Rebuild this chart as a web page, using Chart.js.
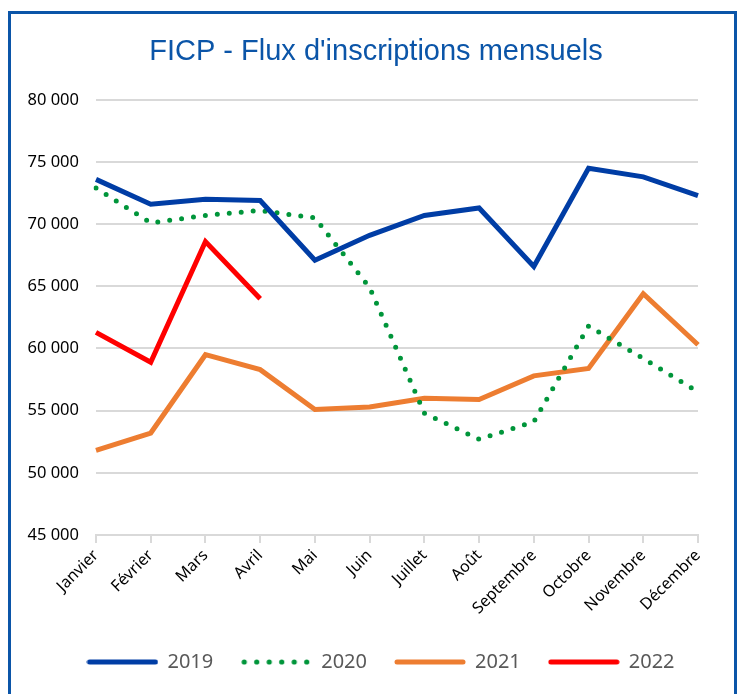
<!DOCTYPE html>
<html>
<head>
<meta charset="utf-8">
<script src="https://cdn.jsdelivr.net/npm/chart.js@4/dist/chart.umd.min.js"></script>
<style>
  html, body { margin: 0; padding: 0; background: #fff; overflow: hidden; }
  #frame { position: absolute; left: 8px; top: 11px; width: 729px; height: 720px; border: 3px solid #0B55A8; box-sizing: border-box; }
  #wrap { position: absolute; left: 0; top: 0; width: 738px; height: 694px; }
</style>
</head>
<body>
<div id="frame"></div>
<div id="wrap"><canvas id="ficpChart" width="738" height="694"></canvas></div>
<script>
// mois et valeurs
const mois = ['Janvier', 'Février', 'Mars', 'Avril', 'Mai', 'Juin', 'Juillet', 'Août', 'Septembre', 'Octobre', 'Novembre', 'Décembre'];
const flux2019 = [73600, 71600, 72000, 71900, 67100, 69100, 70700, 71300, 66600, 74500, 73800, 72300];
const flux2020 = [72900, 70100, 70700, 71100, 70500, 64900, 54800, 52700, 54100, 61800, 59200, 56500];
const flux2021 = [51800, 53200, 59500, 58300, 55100, 55300, 56000, 55900, 57800, 58400, 64400, 60300];
const flux2022 = [61300, 58900, 68600, 64000];

const fmt = v => String(v).replace(/\B(?=(\d{3})+(?!\d))/g, ' ');

// petits symboles de légende (trait plein ou pointillé)
function symbole(couleur, pointille) {
    const c = document.createElement('canvas');
    c.width = 72; c.height = 8;
    const g = c.getContext('2d');
    g.strokeStyle = couleur;
    g.fillStyle = couleur;
    if (pointille) {
        for (let x = 4; x <= 68; x += 12.5) {
            g.beginPath(); g.arc(x, 4, 2.6, 0, Math.PI * 2); g.fill();
        }
    } else {
        g.lineWidth = 5; g.lineCap = 'round';
        g.beginPath(); g.moveTo(3, 4); g.lineTo(69, 4); g.stroke();
    }
    return c;
}

// décale titre et légende vers la droite (centrés sur le cadre, pas sur la zone du graphique)
const decalage = {
    id: 'decalage',
    afterLayout(chart) {
        chart.titleBlock.left += 27; chart.titleBlock.right += 27;
        chart.legend.left += 32; chart.legend.right += 32;
    }
};

const ctx = document.getElementById('ficpChart').getContext('2d');
const ficpChart = new Chart(ctx, {
    type: 'line',
    data: {
        labels: mois,
        datasets: [{
            label: '2019',
            data: flux2019,
            borderColor: '#003DA5',
            backgroundColor: '#003DA5',
            borderWidth: 5,
            pointRadius: 0,
            pointStyle: symbole('#003DA5', false)
        }, {
            label: '2020',
            data: flux2020,
            borderColor: '#00953A',
            backgroundColor: '#00953A',
            borderWidth: 5,
            borderDash: [0, 12],
            borderCapStyle: 'round',
            pointRadius: 0,
            pointStyle: symbole('#00953A', true)
        }, {
            label: '2021',
            data: flux2021,
            borderColor: '#ED7D31',
            backgroundColor: '#ED7D31',
            borderWidth: 5,
            pointRadius: 0,
            pointStyle: symbole('#ED7D31', false)
        }, {
            label: '2022',
            data: flux2022,
            borderColor: '#FF0000',
            backgroundColor: '#FF0000',
            borderWidth: 5,
            pointRadius: 0,
            pointStyle: symbole('#FF0000', false)
        }]
    },
    plugins: [decalage],
    options: {
        responsive: false,
        animation: false,
        layout: { padding: { left: 0, right: 40, top: 0, bottom: 12 } },
        plugins: {
            title: {
                display: true,
                text: 'FICP - Flux d\'inscriptions mensuels',
                color: '#0B55A8',
                font: { family: 'Liberation Sans', size: 29, weight: 'normal', lineHeight: 1.2 },
                padding: { top: 35, bottom: 30 }
            },
            legend: {
                position: 'bottom',
                labels: {
                    usePointStyle: true,
                    pointStyleWidth: 70,
                    padding: 28,
                    color: '#595959',
                    font: { family: 'Noto Sans', size: 20 }
                }
            },
            tooltip: { enabled: false }
        },
        scales: {
            x: {
                offset: false,
                afterFit: s => { s.height = 89; },
                grid: { drawOnChartArea: false, color: '#D9D9D9', lineWidth: 2, tickLength: 8 },
                border: { color: '#D9D9D9', width: 2 },
                ticks: {
                    maxRotation: 45,
                    minRotation: 45,
                    color: '#000',
                    font: { family: 'Noto Sans', size: 16 }
                }
            },
            y: {
                min: 45000,
                max: 80000,
                afterFit: s => { s.width = 96; },
                grid: { color: '#D9D9D9', lineWidth: 2, drawTicks: false },
                border: { display: false },
                ticks: {
                    stepSize: 5000,
                    padding: 17,
                    color: '#000',
                    font: { family: 'Noto Sans', size: 16.5 },
                    callback: v => fmt(v)
                }
            }
        }
    }
});
</script>
</body>
</html>
